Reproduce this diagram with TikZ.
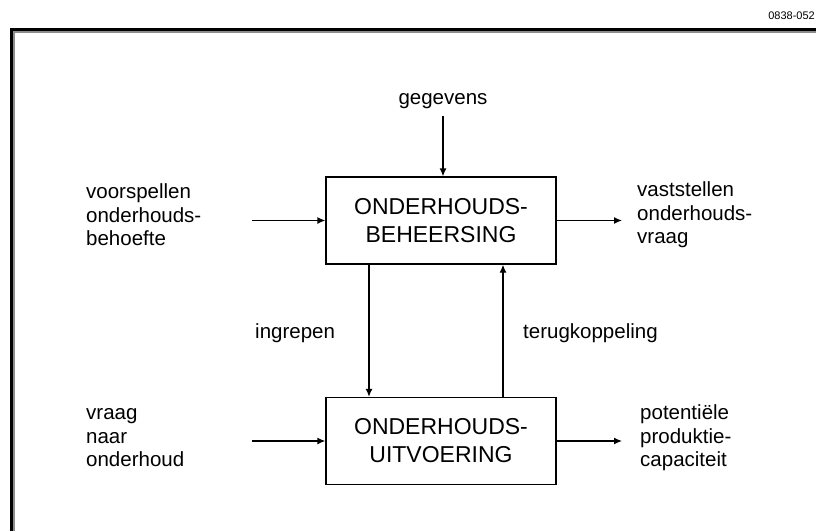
\documentclass[tikz,border=0pt]{standalone}
\usepackage{fontspec}
\setmainfont{Liberation Sans}
\usetikzlibrary{arrows.meta}

\tikzset{
  blok/.style={draw,line width=1.3pt,minimum width=230pt,minimum height=87pt,align=center,inner sep=0pt,font=\fontsize{23}{28}\selectfont},
  tekst/.style={anchor=west,align=left,inner sep=0pt,font=\fontsize{20.5}{23.5}\selectfont},
  pijl/.style={-{Latex[length=8pt,width=7pt]},line width=1.3pt}
}

\begin{document}
\begin{tikzpicture}[x=1pt,y=-1pt]
\useasboundingbox (0,0) rectangle (816,530);

% kader
\draw[line width=2pt,black!45] (13.5,545)--(13.5,31.5)--(830,31.5);
\draw[line width=3pt] (11,545)--(11,29)--(830,29);
\node[anchor=east,inner sep=0pt,font=\fontsize{11}{13}\selectfont] (nummer) at (815,16) {0838-052};

% blokken
\node[blok] (beheer) at (441,220.5) {ONDERHOUDS-\\BEHEERSING};
\node[blok] (uitvoer) at (441,441) {ONDERHOUDS-\\UITVOERING};

% teksten
\node[tekst,anchor=center] (gegevens) at (443,101) {gegevens};
\node[tekst] (voorspellen) at (86,215) {voorspellen\\onderhouds-\\behoefte};
\node[tekst] (vaststellen) at (637,215) {vaststellen\\onderhouds-\\vraag};
\node[tekst] (vraag) at (86,438) {vraag\\naar\\onderhoud};
\node[tekst] (potentieel) at (640,438) {potentiële\\produktie-\\capaciteit};
\node[tekst] (ingrepen) at (255,333) {ingrepen};
\node[tekst] (terug) at (523,333) {terugkoppeling};

\coordinate (in1) at (252,220.5);
\coordinate (uit1) at (622,220.5);
\coordinate (in2) at (252,441);
\coordinate (uit2) at (622,441);

% pijlen
\draw[pijl,shorten <=7pt] (gegevens.south) -- (gegevens.south |- beheer.north);
\draw[pijl] (in1) -- (beheer.west);
\draw[pijl] (beheer.east) -- (uit1);
\draw[pijl] (in2) -- (uitvoer.west);
\draw[pijl] (uitvoer.east) -- (uit2);
\draw[pijl] ([xshift=-72pt]beheer.south) -- ([xshift=-72pt]uitvoer.north);
\draw[pijl] ([xshift=62pt]uitvoer.north) -- ([xshift=62pt]beheer.south);
\end{tikzpicture}
\end{document}
